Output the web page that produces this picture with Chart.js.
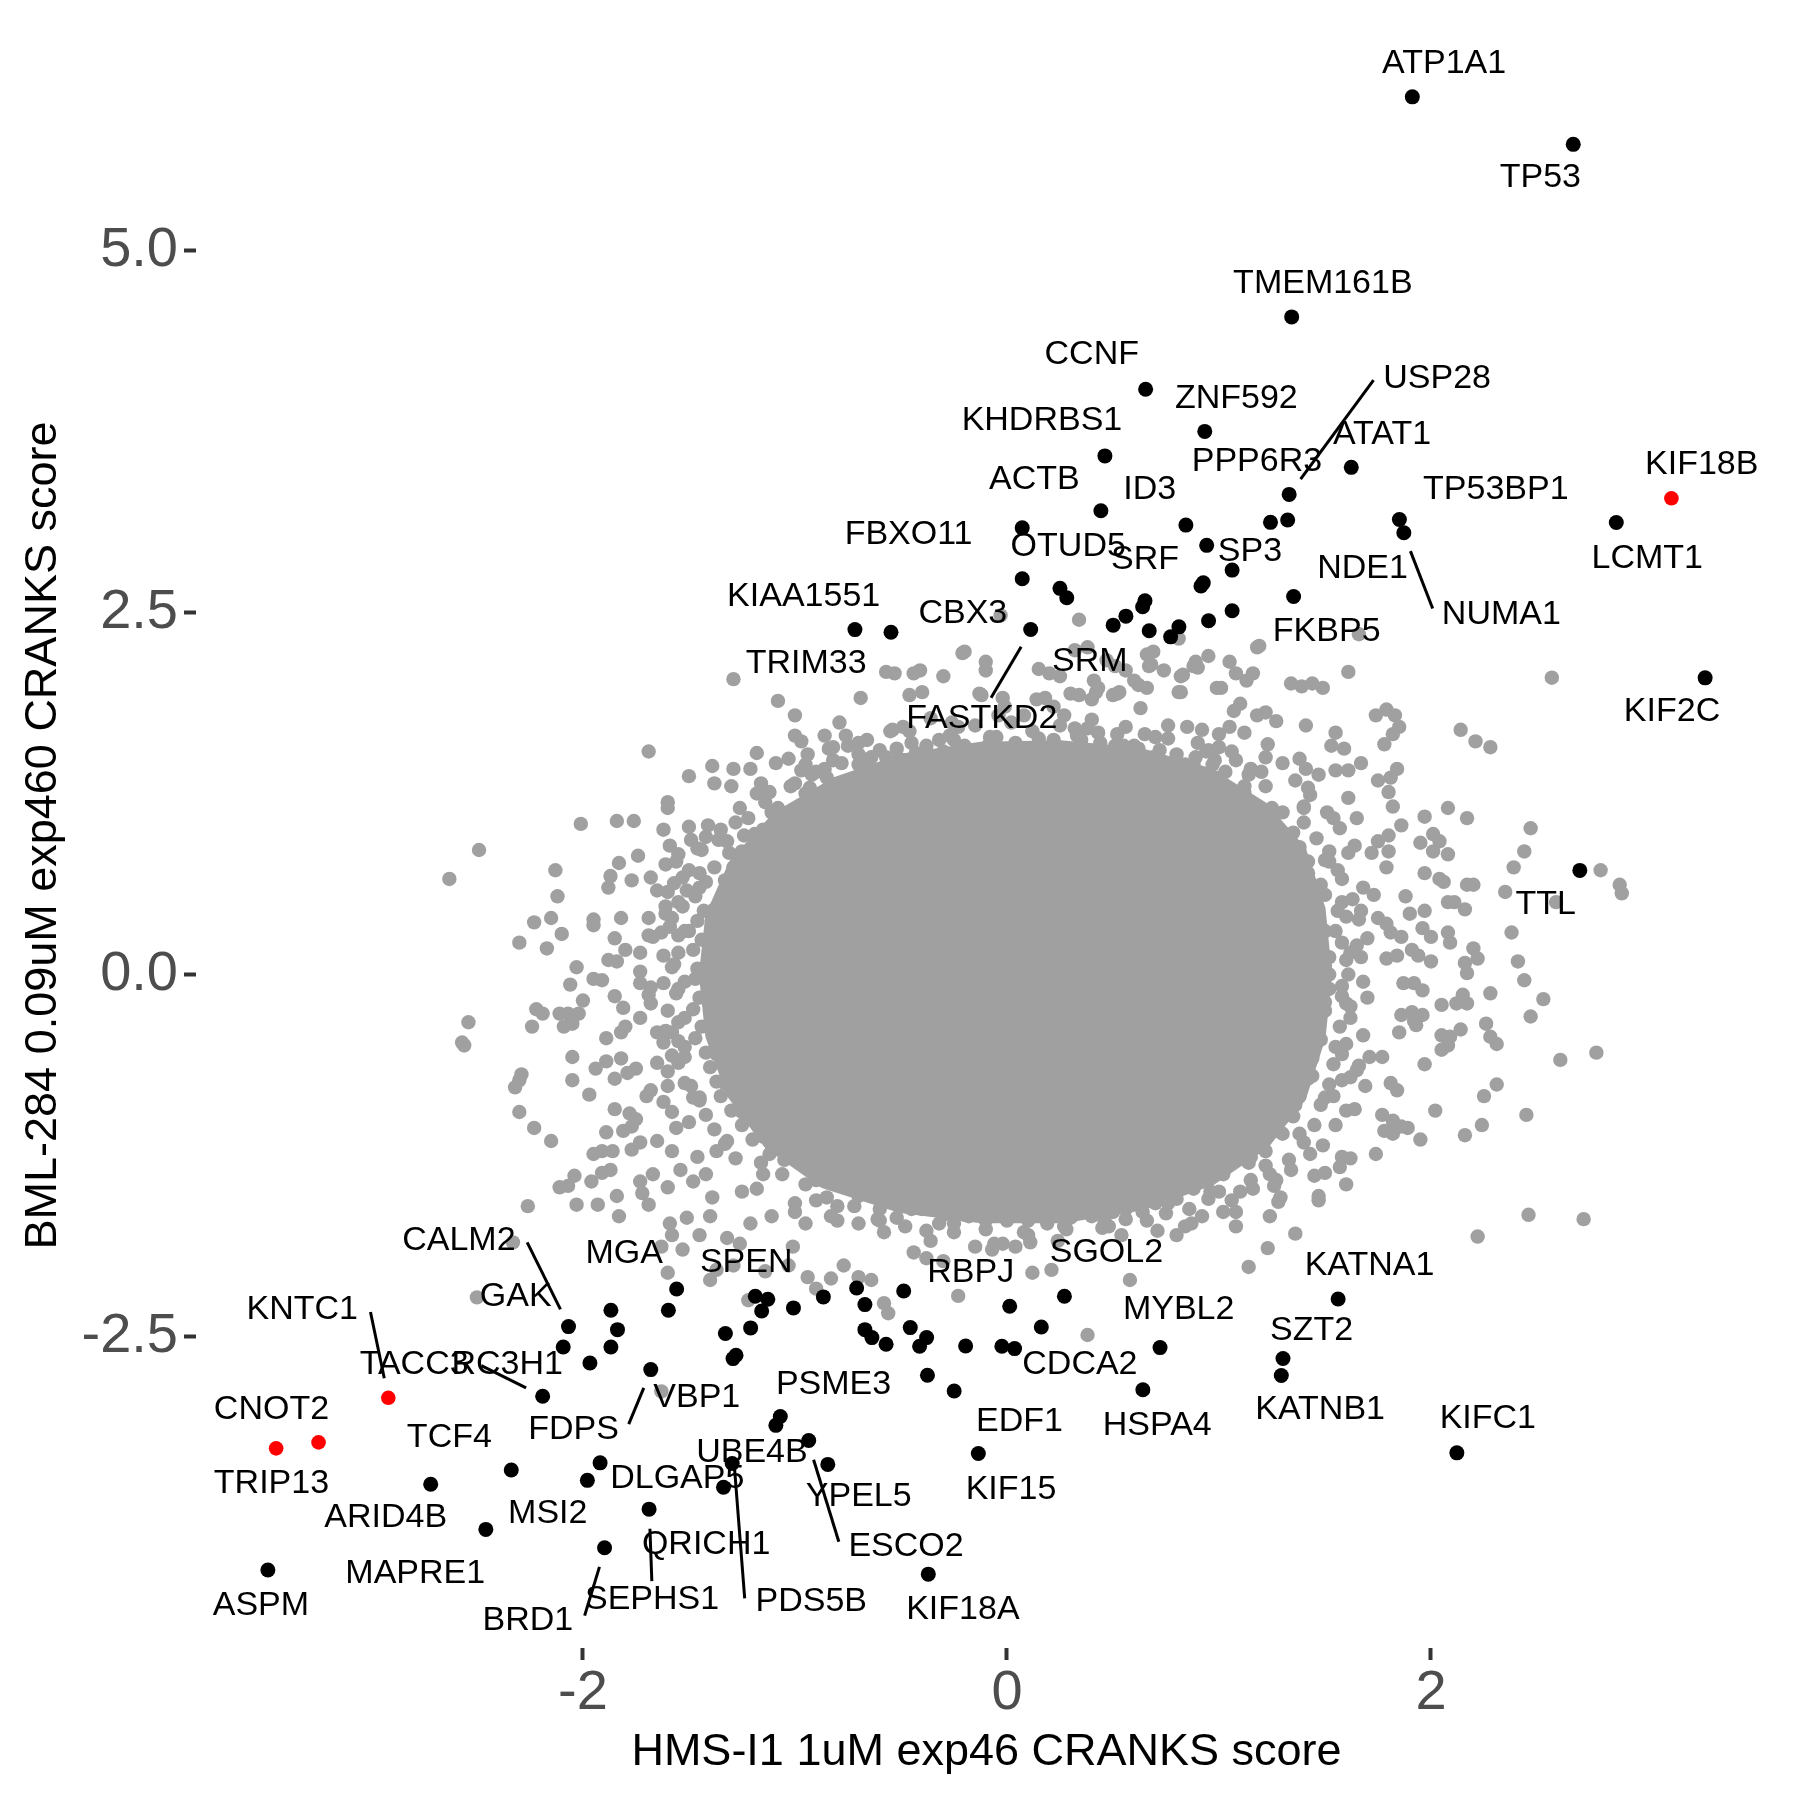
<!DOCTYPE html>
<html>
<head>
<meta charset="utf-8">
<script src="https://cdn.jsdelivr.net/npm/chart.js@4.4.1/dist/chart.umd.min.js"></script>
<style>
  html, body { margin: 0; padding: 0; background: #fff; }
</style>
</head>
<body>
<canvas id="myChart" width="1800" height="1800"></canvas>
<script>
// axis ranges and ticks
const xRange = [-3.825, 3.632];
const yRange = [-4.652, 6.572];
const xTicks = [-2, 0, 2];
const yTicks = [-2.5, 0, 2.5, 5];

// significant genes (black)
const hitPts = [
  [1.912,6.062],[2.671,5.734],[1.343,4.542],[0.654,4.042],[0.933,3.751],[0.462,3.582],[1.624,3.503],
  [1.331,3.316],[0.443,3.203],[0.072,3.085],[0.844,3.104],[1.243,3.123],[1.324,3.139],[1.851,3.143],
  [1.872,3.051],[2.874,3.122],[0.942,2.964],[1.062,2.793],[0.915,2.683],[0.926,2.705],[1.352,2.611],
  [0.072,2.733],[0.250,2.667],[0.282,2.602],[0.651,2.581],[0.640,2.540],[0.561,2.475],[0.501,2.413],
  [0.671,2.374],[0.811,2.401],[0.772,2.332],[0.951,2.443],[1.062,2.512],[0.112,2.383],[-0.717,2.382],
  [-0.547,2.364],[3.293,2.049],[2.702,0.719],
  [-2.068,-2.432],[-2.093,-2.573],[-1.868,-2.319],[-1.837,-2.453],[-1.868,-2.573],[-1.558,-2.172],
  [-1.597,-2.319],[-1.967,-2.683],[-1.680,-2.729],[-2.190,-2.913],[-2.338,-3.423],[-2.718,-3.521],
  [-2.458,-3.833],[-3.486,-4.113],[-1.919,-3.373],[-1.979,-3.494],[-1.688,-3.693],[-1.898,-3.960],
  [-1.328,-2.480],[-1.209,-2.441],[-1.278,-2.630],[-1.292,-2.653],[-1.187,-2.222],[-1.128,-2.243],
  [-1.157,-2.324],[-1.007,-2.303],[-0.866,-2.227],[-0.709,-2.165],[-0.670,-2.280],[-0.670,-2.453],
  [-0.637,-2.508],[-0.570,-2.554],[-0.487,-2.186],[-0.456,-2.439],[-0.379,-2.508],[-0.412,-2.568],
  [-0.375,-2.768],[-0.249,-2.877],[-0.195,-2.566],[-0.024,-2.568],[0.036,-2.584],[0.013,-2.292],
  [0.162,-2.435],[0.271,-2.222],[0.641,-2.868],[0.722,-2.577],[-1.069,-3.053],[-1.090,-3.114],
  [-0.935,-3.219],[-0.845,-3.384],[-1.296,-3.378],[-1.337,-3.542],[-0.135,-3.309],[-0.371,-4.142],
  [1.562,-2.241],[1.302,-2.652],[1.294,-2.770],[2.122,-3.304]
];

// highlighted genes (red)
const redPts = [[3.134,3.289],[-2.918,-2.924],[-3.447,-3.273],[-3.247,-3.232]];

// outline of the solid, densely packed part of the cloud
const coreOutline = [
  [1.50,0.00],[1.47,0.45],[1.38,0.85],[1.20,1.15],[0.95,1.38],[0.62,1.52],[0.25,1.57],[-0.12,1.56],
  [-0.48,1.48],[-0.80,1.32],[-1.08,1.08],[-1.28,0.76],[-1.39,0.40],[-1.42,0.00],[-1.39,-0.42],
  [-1.29,-0.82],[-1.12,-1.16],[-0.86,-1.43],[-0.50,-1.60],[-0.12,-1.67],[0.26,-1.67],[0.64,-1.58],
  [0.96,-1.41],[1.21,-1.16],[1.38,-0.84],[1.47,-0.43]
];

// other genes (grey) outside the solid core
const greyPts = [
  // dense band round the core
  [-0.60,1.55],[-0.45,1.60],[-0.25,1.62],[-0.05,1.64],[0.15,1.63],[0.35,1.62],[0.55,1.58],[0.72,1.55],
  [0.88,1.45],[1.00,1.36],[-0.70,1.45],[-0.85,1.36],[-0.95,1.25],[-1.08,1.15],[-1.15,1.00],[-1.25,0.85],
  [-1.33,0.65],[-1.38,0.45],[-1.40,0.25],[-1.42,0.05],[-1.42,-0.15],[-1.40,-0.35],[-1.37,-0.55],[-1.33,-0.75],
  [-1.25,-0.95],[-1.15,-1.12],[-1.05,-1.28],[-0.90,-1.42],[-0.70,-1.53],[-0.50,-1.60],[-0.30,-1.66],[-0.10,-1.70],
  [0.10,-1.70],[0.30,-1.68],[0.50,-1.64],[0.70,-1.58],[0.88,-1.48],[1.02,-1.38],[1.15,-1.26],[1.27,-1.08],
  [1.36,-0.90],[1.44,-0.70],[1.48,-0.45],[1.50,-0.25],[1.52,0.00],[1.50,0.30],[1.47,0.55],[1.42,0.78],
  [1.35,0.98],[1.25,1.15],[1.12,1.30],
  [-0.55,1.68],[-0.15,1.72],[0.25,1.72],[0.65,1.66],[0.95,1.55],[1.20,1.40],[1.40,1.15],[1.52,0.85],
  [1.58,0.50],[1.62,0.15],[1.60,-0.20],[1.58,-0.55],[1.50,-0.85],[1.38,-1.10],[1.22,-1.32],[1.00,-1.50],
  [0.75,-1.65],[0.45,-1.75],[0.10,-1.80],[-0.25,-1.78],[-0.60,-1.70],[-0.90,-1.56],[-1.15,-1.38],[-1.32,-1.15],
  [-1.45,-0.85],[-1.52,-0.50],[-1.55,-0.10],[-1.52,0.30],[-1.45,0.70],[-1.35,1.00],[-1.18,1.25],[-0.95,1.45],
  [-0.75,1.58],
  [-1.28,1.05],[-1.41,1.03],[-1.24,0.96],[-1.36,0.93],[-1.31,0.84],[-1.44,0.86],[-1.55,0.83],[-1.26,0.76],
  [-1.38,0.74],[-1.61,0.76],[-1.29,0.66],[-1.42,0.64],[-1.53,0.67],[-1.33,0.56],[-1.47,0.54],[-1.60,0.57],
  [-1.31,0.46],[-1.43,0.44],[-1.53,0.47],[-1.36,0.35],[-1.46,0.37],[-1.59,0.33],[-1.33,0.26],[-1.44,0.24],
  [-1.55,0.27],[-1.37,0.15],[-1.48,0.17],[-1.62,0.13],[-1.34,0.06],[-1.46,0.04],[-1.57,0.07],[-1.36,-0.05],
  [-1.47,-0.03],[-1.62,-0.06],[-1.33,-0.14],[-1.45,-0.16],[-1.56,-0.13],[-1.36,-0.26],[-1.48,-0.24],[-1.32,-0.34],
  [-1.44,-0.36],[-1.55,-0.33],[-1.35,-0.46],[-1.47,-0.44],[-1.62,-0.47],[-1.30,-0.56],[-1.42,-0.54],[-1.52,-0.57],
  [-1.28,-0.66],[-1.40,-0.64],[-1.60,-0.67],[-1.25,-0.76],[-1.37,-0.74],[-1.49,-0.77],[-1.22,-0.86],[-1.35,-0.84],
  [-1.45,-0.87],[-1.18,-0.96],[-1.30,-0.94],[-1.42,-0.97],[-1.12,-1.06],[-1.25,-1.04],[-1.38,-1.07],[-1.05,-1.16],
  [-1.20,-1.14],[-1.33,-1.17],[-0.98,-1.26],[-1.12,-1.24],[-1.28,-1.27],
  [1.40,1.05],[1.30,1.12],[1.46,0.94],[1.38,0.88],[1.52,0.78],[1.42,0.70],[1.58,0.66],[1.48,0.62],
  [1.44,0.46],[1.56,0.44],[1.66,0.38],[1.46,0.34],[1.58,0.22],[1.48,0.20],[1.67,0.12],[1.50,0.06],
  [1.61,0.00],[1.48,-0.07],[1.58,-0.08],[1.70,-0.16],[1.50,-0.19],[1.62,-0.22],[1.47,-0.32],[1.57,-0.36],
  [1.68,-0.42],[1.46,-0.45],[1.60,-0.48],[1.44,-0.58],[1.54,-0.62],[1.65,-0.66],[1.42,-0.72],[1.52,-0.76],
  [1.38,-0.84],[1.48,-0.90],[1.60,-0.94],[1.35,-0.98],[1.45,-1.04],[1.30,-1.10],[1.40,-1.16],[1.22,-1.22],
  [1.33,-1.28],[1.14,-1.30],[1.24,-1.38],
  [-1.02,1.30],[-0.90,1.40],[-0.78,1.46],[-0.64,1.50],[-0.52,1.56],[-0.40,1.52],[-0.32,1.62],[-0.20,1.58],
  [-0.08,1.64],[0.04,1.60],[0.12,1.68],[0.22,1.62],[0.32,1.70],[0.44,1.60],[0.52,1.66],[0.62,1.56],
  [0.70,1.64],[0.80,1.52],[0.90,1.60],[0.98,1.48],[1.06,1.54],[1.14,1.38],[1.22,1.30],[-0.94,1.52],
  [-0.70,1.60],[-0.46,1.68],[-0.26,1.74],[0.02,1.74],[0.40,1.76],[0.76,1.72],[1.00,1.66],[1.22,1.50],
  [-1.12,1.26],[-0.84,1.56],
  [-0.95,-1.45],[-0.85,-1.54],[-0.72,-1.60],[-0.60,-1.55],[-0.52,-1.68],[-0.40,-1.62],[-0.32,-1.72],[-0.20,-1.66],
  [-0.10,-1.76],[0.00,-1.70],[0.08,-1.78],[0.18,-1.66],[0.28,-1.76],[0.38,-1.64],[0.46,-1.70],[0.56,-1.62],
  [0.66,-1.70],[0.76,-1.58],[0.86,-1.62],[0.96,-1.50],[1.06,-1.56],[1.16,-1.48],[-1.06,-1.38],[-1.16,-1.30],
  [-0.80,-1.70],[-0.58,-1.78],[-0.36,-1.84],[-0.06,-1.86],[0.24,-1.84],[0.54,-1.80],[0.84,-1.74],[1.08,-1.64],
  [-1.00,-1.64],[-1.18,-1.48],
  // left side
  [-1.69,1.54],[-1.50,1.37],[-1.39,1.44],[-1.38,1.32],[-2.49,0.86],[-2.63,0.66],[-2.01,1.04],[-1.84,1.06],
  [-1.76,1.06],[-1.60,1.19],[-1.60,1.15],[-1.62,1.00],[-1.50,1.02],[-1.59,0.89],[-1.56,0.78],[-1.74,0.82],
  [-1.83,0.77],[-2.13,0.72],[-1.87,0.68],[-1.88,0.60],[-1.77,0.65],[-1.68,0.67],[-2.12,0.54],[-2.23,0.36],
  [-2.15,0.39],[-2.10,0.28],[-2.30,0.22],[-2.17,0.18],[-1.95,0.38],[-1.95,0.34],[-1.82,0.39],[-1.85,0.25],
  [-1.80,0.17],[-2.03,0.05],[-2.06,-0.07],[-1.95,-0.03],[-1.91,-0.04],[-1.88,0.10],[-1.84,0.09],[-1.85,-0.15],
  [-1.81,-0.23],[-2.00,-0.18],[-2.22,-0.24],[-2.19,-0.27],[-2.24,-0.36],[-2.11,-0.27],[-2.07,-0.27],[-2.02,-0.27],
  [-2.09,-0.36],[-2.05,-0.34],[-2.54,-0.33],[-2.57,-0.47],[-2.56,-0.49],[-1.89,-0.44],[-1.82,-0.40],[-1.80,-0.36],
  [-2.05,-0.57],[-2.05,-0.73],[-1.94,-0.65],[-1.89,-0.60],[-1.82,-0.58],[-1.85,-0.72],[-1.79,-0.68],[-1.75,-0.65],
  [-2.29,-0.69],[-2.30,-0.73],[-2.32,-0.78],[-1.97,-0.83],[-2.30,-0.95],[-2.23,-1.06],[-2.15,-1.15],[-1.85,-0.93],
  [-1.89,-1.09],[-1.78,-0.96],[-1.75,-1.00],[-1.81,-1.08],[-1.77,-1.05],[-1.95,-1.24],[-1.91,-1.22],[-1.86,-1.22],
  [-1.77,-1.21],[-1.73,-1.16],[-2.04,-1.39],[-1.96,-1.43],[-1.91,-1.37],[-1.87,-1.35],[-2.11,-1.47],[-2.07,-1.46],
  [-1.73,-1.43],[-1.67,-1.38],[-1.60,-1.47],[-1.65,-1.15],[-1.84,-1.53],[-1.72,-1.51],[-1.70,-0.84],[-1.68,-0.80],
  [-1.62,-0.88],[-1.65,-0.61],[-1.73,0.02],[-1.69,0.27],[-1.73,0.15],[-1.58,-1.22],[-1.54,-1.35],[-1.73,-0.30],
  [-1.65,-0.40],[-1.61,-0.39],[-1.60,-0.77],[-1.56,-1.06],[-1.50,-1.02],[-1.69,0.39],[-1.61,0.42],[-1.58,0.39],
  [-1.65,0.58],[-1.61,0.47],[-1.57,0.63],[-1.51,0.58],[-1.49,0.93],[-1.46,0.87],[-1.42,0.95],[-1.67,0.26],
  [-1.63,0.29],[-1.73,-0.06],[-1.68,-0.09],[-1.69,-0.14],[-1.68,-0.20],[-1.58,-0.40],[-1.55,-0.46],[-1.58,-0.56],
  [-1.55,-0.61],[-1.46,-1.26],[-1.42,-1.38],[-1.37,-1.22],[-1.48,-1.43],[-1.39,-1.54],[-1.55,0.15],[-1.52,-0.05],
  [-1.60,-0.25],[-1.52,-0.30],[-1.58,0.05],[-1.50,0.30],[-1.55,0.50],[-1.52,-0.75],[-1.48,-0.85],[-1.58,-0.95],
  [-1.50,0.72],[-1.45,0.60],
  // top side
  [0.34,2.45],[-1.29,2.04],[-1.08,1.89],[-1.00,1.79],[-0.69,1.91],[-0.57,2.09],[-0.53,2.08],[-0.44,2.08],
  [-0.41,2.10],[-0.30,2.06],[-0.21,2.22],[-0.10,2.16],[-0.10,2.10],[-0.46,1.93],[-0.40,1.95],[-0.12,1.93],
  [0.15,2.11],[0.20,2.08],[0.34,1.93],[0.40,1.90],[0.43,1.98],[0.50,1.93],[0.53,1.95],[0.62,2.00],
  [0.66,1.98],[0.68,2.14],[0.74,2.10],[0.81,1.95],[0.83,2.07],[0.90,2.12],[0.95,2.20],[0.99,1.98],
  [1.05,2.16],[1.08,2.08],[1.10,1.87],[1.07,1.82],[1.13,2.03],[0.63,1.84],[0.56,1.71],[0.43,1.67],
  [0.38,1.70],[0.33,1.65],[0.14,1.90],[0.18,1.91],[0.08,1.79],[-0.04,1.79],[-0.01,1.85],[-0.23,1.71],
  [-0.27,1.65],[-0.36,1.77],[-0.38,1.58],[-0.49,1.71],[-0.54,1.69],[-0.66,1.62],[-0.79,1.74],[-0.76,1.65],
  [-0.86,1.65],[-0.82,1.57],[-1.00,1.65],[-0.97,1.61],[-1.18,1.53],[-1.29,1.42],[-1.30,1.30],[-1.21,1.42],
  [-1.16,1.32],[-1.09,1.46],[-1.03,1.49],[-0.97,1.41],[-0.92,1.38],[-0.93,1.29],[-0.86,1.42],[-0.82,1.48],
  [-0.70,1.52],[-0.66,1.48],[-0.57,1.50],[-0.51,1.49],[-1.00,1.32],[-1.14,1.19],[-1.11,1.12],[-1.26,1.15],
  [-1.22,1.08],[-1.19,0.97],[-1.11,0.95],[-1.06,1.05],[-1.01,1.11],[-1.32,0.92],[-1.29,0.74],[0.76,1.63],
  [0.85,1.71],[0.92,1.69],[0.94,1.54],[1.00,1.57],[1.05,1.71],[1.12,1.67],[1.08,1.48],[1.15,1.42],
  [1.12,1.26],[0.97,1.45],[1.03,1.40],[0.84,1.45],[0.89,1.50],[0.69,1.50],[0.74,1.42],[0.60,1.58],
  [0.64,1.50],[0.51,1.58],[0.43,1.48],[0.22,1.56],[0.27,1.53],[0.08,1.56],[0.12,1.53],[-0.02,1.50],
  [-0.09,1.58],[-0.18,1.53],[-0.14,1.50],[-0.30,1.54],[-0.35,1.50],[-0.43,1.53],[-0.48,1.48],[0.27,1.79],
  [0.22,1.85],[1.18,1.79],
  [-0.03,2.48],[-0.20,2.23],[0.25,2.06],[0.32,2.24],[0.38,2.26],[0.47,2.17],[0.51,2.13],[0.41,2.03],
  [0.42,1.95],[0.56,2.10],[0.66,2.21],[0.67,2.13],[0.69,2.23],[0.81,2.32],[0.82,2.06],[0.88,2.13],
  [0.89,2.16],[1.01,1.98],[1.16,2.08],[1.18,2.26],[0.60,2.03],[-0.13,1.94],[-0.02,1.91],[0.30,1.94],
  [0.52,1.94],[0.82,1.95],
  // right side
  [1.66,2.35],[1.19,2.27],[1.61,2.09],[1.34,2.01],[1.39,1.99],[1.44,2.01],[1.49,1.98],[2.57,2.05],
  [1.22,1.81],[1.27,1.75],[1.41,1.72],[1.74,1.79],[1.79,1.83],[1.83,1.79],[1.85,1.71],[1.82,1.66],
  [1.78,1.59],[2.14,1.69],[2.21,1.61],[2.28,1.57],[1.55,1.67],[1.59,1.56],[1.53,1.58],[1.23,1.59],
  [1.38,1.49],[1.41,1.42],[1.30,1.46],[1.55,1.41],[1.61,1.41],[1.67,1.46],[1.47,1.38],[1.36,1.34],
  [1.42,1.29],[1.84,1.42],[1.81,1.36],[1.75,1.34],[1.80,1.26],[1.82,1.16],[1.61,1.22],[1.40,1.16],
  [1.43,1.24],[2.08,1.15],[1.97,1.09],[2.17,1.08],[1.65,1.08],[1.51,1.12],[1.54,1.08],[1.57,1.01],
  [1.86,1.03],[2.01,0.97],[2.04,0.92],[2.08,0.83],[2.01,0.85],[1.95,0.91],[1.80,0.96],[1.75,0.92],
  [1.80,0.85],[1.72,0.84],[1.79,0.74],[1.64,0.89],[1.61,0.84],[1.50,0.79],[1.56,0.72],[2.47,1.01],
  [2.44,0.85],[2.39,0.74],[2.35,0.57],[2.80,0.72],[2.89,0.62],[2.90,0.56],[2.59,0.50],[2.20,0.62],
  [2.17,0.62],[2.08,0.50],[2.11,0.50],[2.16,0.45],[1.97,0.70],[2.04,0.66],[2.06,0.64],[1.97,0.44],
  [1.88,0.54],[1.90,0.42],[2.38,0.29],[2.41,0.09],[2.44,-0.04],[2.53,-0.17],[2.47,-0.29],[2.61,-0.59],
  [2.78,-0.54],[2.08,0.29],[2.09,0.22],[1.96,0.32],[2.00,0.26],[2.00,0.09],[2.20,0.18],[2.22,0.11],
  [2.16,0.08],[2.17,0.01],[2.28,-0.13],[2.15,-0.14],[2.12,-0.20],[2.17,-0.20],[2.05,-0.21],[2.26,-0.34],
  [2.28,-0.43],[2.31,-0.48],[2.14,-0.38],[2.09,-0.43],[2.05,-0.42],[2.08,-0.49],[2.05,-0.52],[1.97,-0.62],
  [2.31,-0.76],[2.25,-0.84],[2.02,-0.94],[2.24,-1.04],[2.16,-1.11],[2.45,-0.97],[1.95,-1.14],[1.81,-0.75],
  [1.84,-0.80],[1.77,-0.97],[1.82,-1.01],[1.86,-1.05],[1.78,-1.08],[1.82,-1.10],[1.89,-1.06],[1.69,-0.77],
  [1.74,-1.24],[1.64,-0.93],[1.55,-1.04],[1.54,-0.84],[1.58,-1.26],[1.62,-1.27],[1.57,-1.33],[1.60,-1.45],
  [1.49,-1.18],[1.43,-1.24],[1.50,-1.37],[1.45,-1.39],[1.34,-1.35],[1.27,-1.42],[1.26,-1.46],[1.47,-1.53],
  [1.29,-1.54],[1.93,-0.35],[1.85,-0.40],[1.92,-0.32],[1.71,-0.57],[1.77,-0.57],[1.66,-0.63],[1.58,-0.73],
  [1.62,-0.71],[1.86,-0.28],[1.91,-0.26],[1.96,-0.28],[1.87,-0.06],[1.92,-0.06],[1.96,-0.11],[1.79,0.11],
  [1.84,0.13],[1.91,0.17],[1.94,0.13],[1.81,0.29],[1.86,0.26],[1.75,0.39],[1.79,0.35],[1.68,0.60],
  [1.73,0.55],[1.63,0.52],[1.67,0.44],[1.55,0.30],[1.60,0.10],[1.52,-0.10],[1.62,-0.30],[1.55,-0.50],
  [1.50,0.55],[1.65,0.20],[1.58,-0.15],[1.68,-0.05],[1.70,0.25],[1.60,0.40],[1.52,0.12],
  // bottom side
  [-2.26,-1.60],[-2.03,-1.59],[-1.93,-1.59],[-1.83,-1.67],[-1.69,-1.59],[-1.59,-1.72],[-1.58,-1.80],[-1.51,-1.68],
  [-1.45,-1.80],[-1.40,-1.67],[-1.63,-1.88],[-1.53,-1.90],[-1.60,-2.06],[-1.40,-2.11],[-1.37,-2.04],[-2.33,-1.85],
  [-2.50,-2.23],[-1.63,-2.88],[-1.22,-2.25],[-0.58,-2.27],[-0.56,-2.34],[-0.23,-2.22],[0.38,-2.49],[0.58,-2.11],
  [1.14,-2.02],[0.12,-2.06],[0.21,-2.04],[0.71,-1.77],[0.80,-1.80],[0.87,-1.72],[1.08,-1.74],[-0.15,-1.88],
  [-0.07,-1.90],[-0.02,-1.86],[0.04,-1.88],[0.11,-1.85],[-0.30,-1.98],[-0.44,-1.92],[-0.38,-1.96],[-0.70,-2.09],
  [-0.64,-2.11],[-0.83,-2.10],[-0.77,-2.01],[-0.94,-2.09],[-0.90,-2.17],[-1.03,-2.01],[-1.01,-1.88],[-1.14,-2.05],
  [-1.29,-2.01],[-1.26,-1.86],[-1.32,-1.82],[-1.21,-1.72],[-1.11,-1.67],[-0.95,-1.72],[-0.83,-1.67],[-0.70,-1.72],
  [-0.61,-1.69],[-0.48,-1.74],[-0.38,-1.77],[-0.25,-1.72],[-0.18,-1.67],[0.19,-1.72],[0.27,-1.74],[0.40,-1.67],
  [0.48,-1.74],[0.56,-1.69],[0.64,-1.64],[0.92,-1.67],[1.02,-1.64],[1.28,-1.57],[1.24,-1.67],[1.36,-1.79],
  [1.23,-1.89],[1.47,-1.56],[2.22,-1.81],[2.46,-1.66],[2.72,-1.69],[-1.00,-1.58],[-0.60,-1.62],[-0.20,-1.63],
  [0.20,-1.62],[0.60,-1.58],[0.95,-1.55],[-1.25,-1.50],[-0.80,-1.60],[0.00,-1.66],[0.40,-1.60],[0.80,-1.55],
  [1.10,-1.50],[-0.45,-1.62],[1.15,-1.42]
];

// gene labels (text position in data units)
const labelNames = [
  'ATP1A1','TP53','TMEM161B','CCNF','ZNF592','USP28','ATAT1','KHDRBS1','PPP6R3','KIF18B','ACTB','ID3',
  'TP53BP1','LCMT1','FBXO11','OTUD5','SRF','SP3','NDE1','NUMA1','KIAA1551','CBX3','FKBP5','TRIM33','SRM',
  'FASTKD2','KIF2C','TTL','CALM2','MGA','SPEN','SGOL2','RBPJ','KATNA1','GAK','KNTC1','MYBL2','SZT2',
  'TACC3','RC3H1','CDCA2','PSME3','VBP1','FDPS','CNOT2','KATNB1','EDF1','HSPA4','KIFC1','TCF4','UBE4B',
  'DLGAP5','TRIP13','KIF15','YPEL5','MSI2','ARID4B','QRICH1','ESCO2','MAPRE1','PDS5B','SEPHS1','ASPM',
  'KIF18A','BRD1'
];
const labelX = [
  2.062,2.516,1.490,0.400,1.082,2.029,1.769,0.165,1.179,3.277,0.129,0.673,
  2.306,3.020,-0.464,0.289,0.651,1.146,1.677,2.332,-0.959,-0.208,1.508,-0.947,0.391,
  -0.119,3.137,2.541,-2.585,-1.805,-1.230,0.469,-0.171,1.710,-2.317,-3.324,0.810,1.437,
  -2.796,-2.357,0.344,-0.818,-1.463,-2.044,-3.469,1.477,0.059,0.709,2.268,-2.630,-1.203,
  -1.555,-3.469,0.019,-0.699,-2.166,-2.930,-1.419,-0.476,-2.791,-0.923,-1.674,-3.519,
  -0.208,-2.260
];
const labelY = [
  6.289,5.507,4.774,4.278,3.979,4.113,3.730,3.823,3.543,3.519,3.421,3.352,
  3.346,2.871,3.035,2.954,2.867,2.920,2.805,2.488,2.607,2.493,2.367,2.150,2.160,
  1.766,1.819,0.484,-1.837,-1.930,-1.993,-1.921,-2.061,-2.014,-2.225,-2.313,-2.313,-2.458,
  -2.696,-2.696,-2.696,-2.836,-2.921,-3.141,-3.008,-3.008,-3.087,-3.119,-3.071,-3.199,-3.302,
  -3.484,-3.516,-3.555,-3.603,-3.727,-3.753,-3.936,-3.952,-4.137,-4.335,-4.317,-4.356,
  -4.388,-4.462
];

// connector lines from labels to points [x1, y1, x2, y2]
const labelLines = [
  [1.729,4.106,1.385,3.421],
  [1.903,2.924,2.008,2.528],
  [0.067,2.263,-0.075,1.912],
  [-2.263,-1.850,-2.106,-2.313],
  [-3.002,-2.331,-2.937,-2.789],
  [-2.479,-2.701,-2.268,-2.855],
  [-1.784,-3.106,-1.713,-2.855],
  [-1.684,-3.828,-1.675,-4.190],
  [-0.912,-3.352,-0.793,-3.918],
  [-1.285,-3.410,-1.237,-4.309],
  [-1.922,-4.092,-1.992,-4.428]
];

const FONT = '"Liberation Sans", Arial, Helvetica, sans-serif';
const GREY = '#a0a0a0';

function toXY(list) {
  return list.map(p => ({x: p[0], y: p[1]}));
}

// solid part of the cloud, drawn under the points
const corePlugin = {
  id: 'core',
  beforeDatasetsDraw(chart) {
    const ctx = chart.ctx;
    const xs = chart.scales.x, ys = chart.scales.y;
    ctx.save();
    ctx.beginPath();
    coreOutline.forEach((p, i) => {
      const px = xs.getPixelForValue(p[0]);
      const py = ys.getPixelForValue(p[1]);
      if (i === 0) ctx.moveTo(px, py); else ctx.lineTo(px, py);
    });
    ctx.closePath();
    ctx.fillStyle = GREY;
    ctx.fill();
    ctx.lineJoin = 'round';
    ctx.lineWidth = 14;
    ctx.strokeStyle = GREY;
    ctx.stroke();
    ctx.restore();
  }
};

const labelPlugin = {
  id: 'geneLabels',
  afterDatasetsDraw(chart) {
    const ctx = chart.ctx;
    const xs = chart.scales.x, ys = chart.scales.y;
    ctx.save();
    ctx.strokeStyle = '#000';
    ctx.lineWidth = 3;
    labelLines.forEach(l => {
      ctx.beginPath();
      ctx.moveTo(xs.getPixelForValue(l[0]), ys.getPixelForValue(l[1]));
      ctx.lineTo(xs.getPixelForValue(l[2]), ys.getPixelForValue(l[3]));
      ctx.stroke();
    });
    ctx.fillStyle = '#000';
    ctx.font = '34px ' + FONT;
    ctx.textAlign = 'center';
    ctx.textBaseline = 'middle';
    labelNames.forEach((name, i) => {
      ctx.fillText(name, xs.getPixelForValue(labelX[i]), ys.getPixelForValue(labelY[i]));
    });
    ctx.restore();
  }
};

Chart.defaults.font.family = FONT;

const ctx = document.getElementById('myChart').getContext('2d');
const myChart = new Chart(ctx, {
  type: 'scatter',
  data: {
    datasets: [
      { label: 'red', data: toXY(redPts), backgroundColor: '#ff0000', pointRadius: 7.3, pointHoverRadius: 7.3, borderWidth: 0, order: 0 },
      { label: 'hits', data: toXY(hitPts), backgroundColor: '#000000', pointRadius: 7.5, pointHoverRadius: 7.5, borderWidth: 0, order: 1 },
      { label: 'other', data: toXY(greyPts), backgroundColor: GREY, pointRadius: 7.2, pointHoverRadius: 7.2, borderWidth: 0, order: 2 }
    ]
  },
  options: {
    responsive: false,
    animation: false,
    devicePixelRatio: 1,
    layout: { padding: { left: 0, right: 23, top: 23, bottom: 0 } },
    plugins: { legend: { display: false }, tooltip: { enabled: false } },
    scales: {
      x: {
        type: 'linear',
        min: xRange[0],
        max: xRange[1],
        afterBuildTicks: s => { s.ticks = xTicks.map(v => ({value: v})); },
        afterFit: s => { s.height = 152; s.paddingLeft = 0; s.paddingRight = 0; },
        grid: { drawOnChartArea: false, drawTicks: true, tickLength: 12, tickWidth: 4, tickColor: '#333333' },
        border: { display: false },
        ticks: { color: '#4d4d4d', font: { size: 56 }, padding: 0, maxRotation: 0, callback: v => String(v) },
        title: { display: true, text: 'HMS-I1 1uM exp46 CRANKS score', color: '#000', font: { size: 45 }, padding: { top: 0, bottom: 20 } }
      },
      y: {
        type: 'linear',
        min: yRange[0],
        max: yRange[1],
        afterBuildTicks: s => { s.ticks = yTicks.map(v => ({value: v})); },
        afterFit: s => { s.width = 196; s.paddingTop = 0; s.paddingBottom = 0; },
        grid: { drawOnChartArea: false, drawTicks: true, tickLength: 12, tickWidth: 4, tickColor: '#333333' },
        border: { display: false },
        ticks: { color: '#4d4d4d', font: { size: 56 }, padding: 6, callback: v => Number(v).toFixed(1) },
        title: { display: true, text: 'BML-284 0.09uM exp460 CRANKS score', color: '#000', font: { size: 45 }, padding: { top: 17, bottom: 0 } }
      }
    }
  },
  plugins: [corePlugin, labelPlugin]
});
</script>
</body>
</html>
